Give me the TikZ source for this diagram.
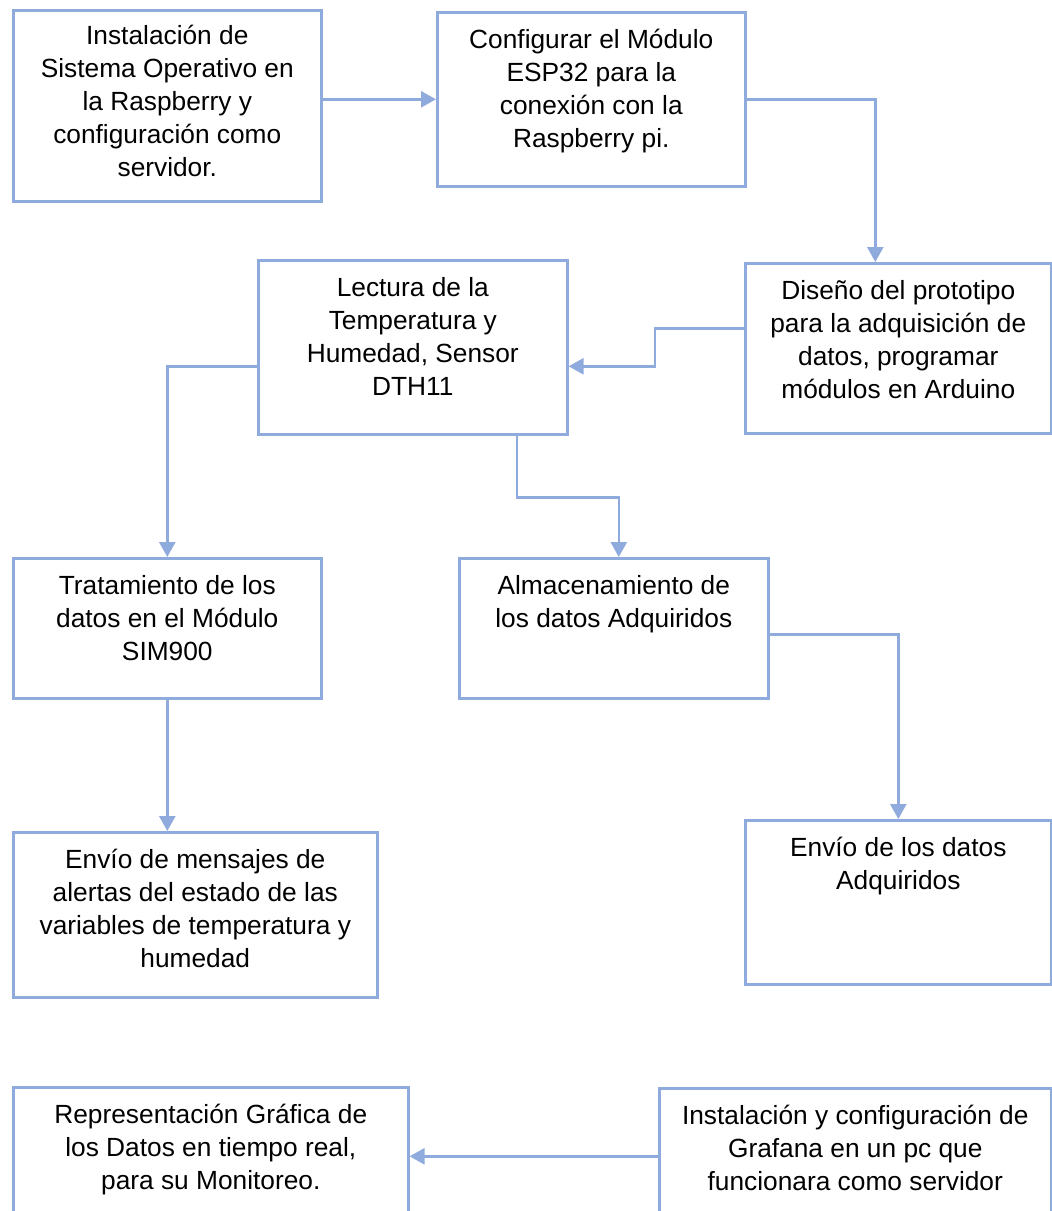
\documentclass[tikz,border=0pt]{standalone}
\usepackage{fontspec}
\setmainfont{Liberation Sans}
\usepackage{tikz}
\usetikzlibrary{arrows.meta}

\definecolor{azul}{RGB}{143,170,220}
\newcommand{\caja}[4][36pt]{\parbox[t][#3][t]{#2}{\centering\rule{0pt}{#1}#4}}

\begin{document}
\begin{tikzpicture}[x=1pt, y=-1pt, >={Triangle[width=16pt,length=15pt]},
    paso/.style={draw=azul, line width=2.6pt, inner sep=0pt, anchor=north west,
      font=\fontsize{26.3}{33}\selectfont},
    flecha/.style={->, color=azul, line width=2.6pt}]
  \useasboundingbox (0,0) rectangle (1052,1211);
  \clip (0,0) rectangle (1052,1211);
  % cajas
  \node[paso] (inst) at (12,9) {\caja[34pt]{308pt}{191pt}{Instalación de\\Sistema Operativo en\\la Raspberry y\\configuración como\\servidor.}};
  \node[paso] (conf) at (436,11) {\caja{308pt}{174pt}{Configurar el Módulo\\ESP32 para la\\conexión con la\\Raspberry pi.}};
  \node[paso] (dise) at (744,262) {\caja{306pt}{170pt}{Diseño del prototipo\\para la adquisición de\\datos, programar\\módulos en Arduino}};
  \node[paso] (lect) at (257,259) {\caja{309pt}{174pt}{Lectura de la\\Temperatura y\\Humedad, Sensor\\DTH11}};
  \node[paso] (trat) at (12,557) {\caja{308pt}{140pt}{Tratamiento de los\\datos en el Módulo\\SIM900}};
  \node[paso] (alma) at (458,557) {\caja{309pt}{140pt}{Almacenamiento de\\los datos Adquiridos}};
  \node[paso] (alert) at (12,831) {\caja{364pt}{165pt}{Envío de mensajes de\\alertas del estado de las\\variables de temperatura y\\humedad}};
  \node[paso] (envio) at (744,819) {\caja{306pt}{164pt}{Envío de los datos\\Adquiridos}};
  \node[paso] (rep) at (12,1086) {\caja{395pt}{136pt}{Representación Gráfica de\\los Datos en tiempo real,\\para su Monitoreo.}};
  \node[paso] (graf) at (658,1087) {\caja{392pt}{136pt}{Instalación y configuración de\\Grafana en un pc que\\funcionara como servidor}};
  % flechas
  \draw[flecha] (conf.west -| inst.east) -- (conf.west);
  \draw[flecha] (conf.east) -| ([xshift=-23pt]dise.north);
  \draw[flecha] ([yshift=20pt]dise.west) -- ++(-89,0) |- ([yshift=-19pt]lect.east);
  \draw[flecha] ([yshift=-19pt]lect.west) -| (trat.north);
  \draw[flecha] ([xshift=104pt]lect.south) -- ++(0,62) -| ([xshift=5pt]alma.north);
  \draw[flecha] (trat.south) -- (trat.south |- alert.north);
  \draw[flecha] ([yshift=-6pt]alma.east) -| (envio.north);
  \draw[flecha] (graf.west) -- (graf.west -| rep.east);
\end{tikzpicture}
\end{document}
